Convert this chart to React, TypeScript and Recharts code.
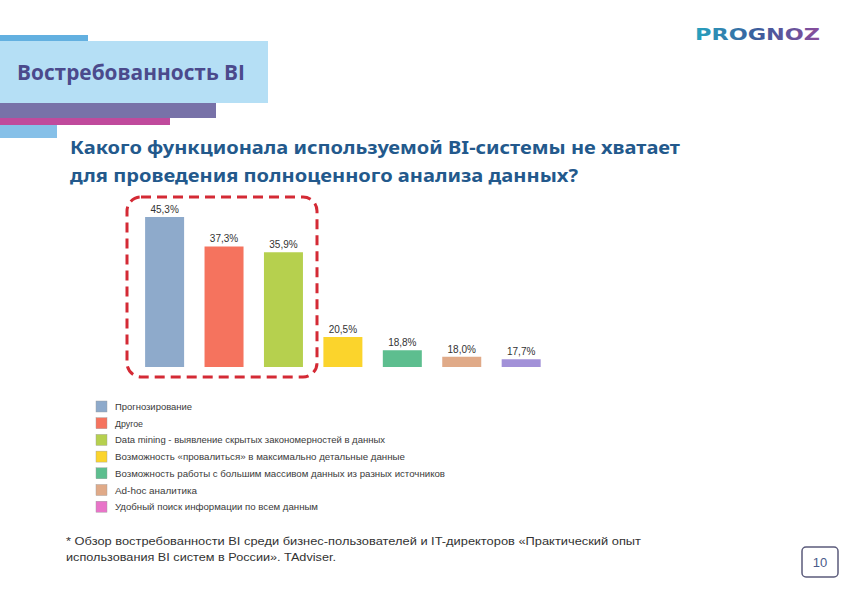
import { Bar, BarChart, Cell, LabelList, XAxis, YAxis } from "recharts";

const categories = [
  "Прогнозирование",
  "Другое",
  "Data mining - выявление скрытых закономерностей в данных",
  "Возможность «провалиться» в максимально детальные данные",
  "Возможность работы с большим массивом данных из разных источников",
  "Ad-hoc аналитика",
  "Удобный поиск информации по всем данным",
];
const values = [45.3, 37.3, 35.9, 20.5, 18.8, 18.0, 17.7];
const barColors = ["#8eaacb", "#f5735e", "#b6d04e", "#fbd42c", "#5dbe8f", "#e0aa88", "#a291d8"];
const legendColors = ["#8eaacb", "#f5735e", "#b6d04e", "#fbd42c", "#5dbe8f", "#e0aa88", "#e874c8"];
const legendWidths = [77, 28, 270, 290, 330, 82, 203];

const data = categories.map((name, i) => ({ name, value: values[i] }));
const fmt = (v: number) => v.toFixed(1).replace(".", ",") + "%";

export default function App() {
  return (
    <div style={{ position: "absolute", left: 0, top: 0, width: 842, height: 595, background: "#fff", overflow: "hidden" }}>
      <svg width={842} height={595} style={{ position: "absolute", left: 0, top: 0 }}>
        <defs>
          <linearGradient id="logo" x1="0" x2="1" y1="0" y2="0">
            <stop offset="0%" stopColor="#27a3bf" />
            <stop offset="50%" stopColor="#3b5c9c" />
            <stop offset="100%" stopColor="#8a4c9c" />
          </linearGradient>
        </defs>
        {/* header strips */}
        <rect x={0} y={35} width={88} height={6} fill="#63b0e0" />
        <rect x={0} y={41} width={268} height={62} fill="#b5dff5" />
        <rect x={0} y={103} width={216} height={15} fill="#7872a8" />
        <rect x={0} y={118} width={170} height={7} fill="#c04a9c" />
        <rect x={0} y={125} width={57} height={13} fill="#86c0e8" />
        <text x={17} y={80} fontFamily="Open Sans" fontWeight={700} fontSize={22} fill="#4b4a8c" textLength={228} lengthAdjust="spacingAndGlyphs">
          Востребованность BI
        </text>
        <text x={695} y={40} fontFamily="DejaVu Sans" fontWeight={700} fontSize={16} fill="url(#logo)" textLength={125} lengthAdjust="spacingAndGlyphs">
          PROGNOZ
        </text>
        <text x={70} y={154} fontFamily="Noto Sans" fontWeight={700} fontSize={18} fill="#23598c" textLength={610} lengthAdjust="spacingAndGlyphs">
          Какого функционала используемой BI-системы не хватает
        </text>
        <text x={70} y={182} fontFamily="Noto Sans" fontWeight={700} fontSize={18} fill="#23598c" textLength={508} lengthAdjust="spacingAndGlyphs">
          для проведения полноценного анализа данных?
        </text>
        {/* dashed highlight */}
        <rect x={127} y={197} width={190} height={180} rx={14} fill="none" stroke="#d42a35" strokeWidth={3} strokeDasharray="10 6" />
        {/* legend */}
        {categories.map((c, i) => (
          <g key={c}>
            <rect x={96} y={401 + i * 16.7} width={11} height={11} fill={legendColors[i]} stroke="#999" strokeWidth={0.4} />
            <text x={115} y={410 + i * 16.7} fontFamily="Liberation Sans" fontSize={9.5} fill="#3a3a3a" textLength={legendWidths[i]} lengthAdjust="spacingAndGlyphs">
              {c}
            </text>
          </g>
        ))}
        {/* footnote */}
        <text x={66} y={545} fontFamily="Liberation Sans" fontSize={11} fill="#333" textLength={575} lengthAdjust="spacingAndGlyphs">
          * Обзор востребованности BI среди бизнес-пользователей и IT-директоров «Практический опыт
        </text>
        <text x={66} y={561} fontFamily="Liberation Sans" fontSize={11} fill="#333" textLength={270} lengthAdjust="spacingAndGlyphs">
          использования BI систем в России». TAdviser.
        </text>
        {/* page number */}
        <rect x={802} y={547} width={36} height={30} rx={4} fill="#fff" stroke="#5b5b7b" strokeWidth={1.5} />
        <text x={820} y={567} textAnchor="middle" fontFamily="Liberation Sans" fontSize={13} fill="#4a5a8a">
          10
        </text>
      </svg>
      <div style={{ position: "absolute", left: 120, top: 190 }}>
        <BarChart width={450} height={190} data={data} margin={{ top: 12, right: 19, bottom: 13, left: 15 }} barCategoryGap="17%">
          <XAxis dataKey="name" hide />
          <YAxis type="number" scale="log" domain={[16.83, 50]} allowDataOverflow hide />
          <Bar dataKey="value" isAnimationActive={false}>
            {data.map((d, i) => (
              <Cell key={d.name} fill={barColors[i]} />
            ))}
            <LabelList dataKey="value" position="top" offset={4} formatter={(v: any) => fmt(Number(v))} fontFamily="Liberation Sans" fontSize={10} fill="#333" />
          </Bar>
        </BarChart>
      </div>
    </div>
  );
}
